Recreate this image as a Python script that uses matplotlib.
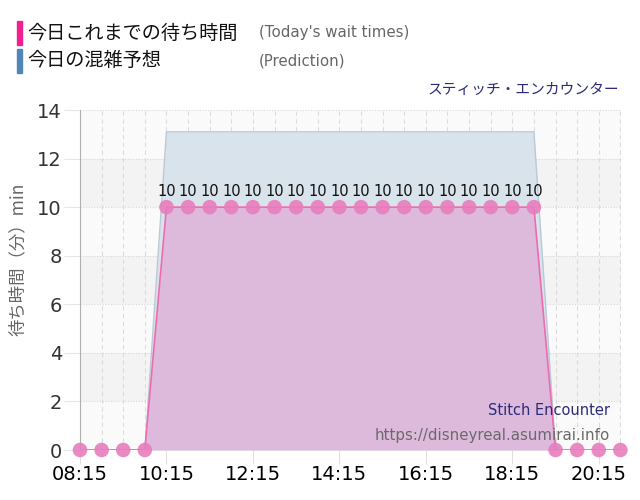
import matplotlib
matplotlib.use("Agg")
import matplotlib.pyplot as plt

# data (30 min steps)
times = ["08:15", "08:45", "09:15", "09:45", "10:15", "10:45", "11:15", "11:45",
         "12:15", "12:45", "13:15", "13:45", "14:15", "14:45", "15:15", "15:45",
         "16:15", "16:45", "17:15", "17:45", "18:15", "18:45", "19:15", "19:45",
         "20:15", "20:45"]
waits = [0, 0, 0, 0, 10, 10, 10, 10, 10, 10, 10, 10, 10, 10, 10, 10,
         10, 10, 10, 10, 10, 10, 0, 0, 0, 0]
prediction = [0, 0, 0, 0, 13.1, 13.1, 13.1, 13.1, 13.1, 13.1, 13.1, 13.1, 13.1,
              13.1, 13.1, 13.1, 13.1, 13.1, 13.1, 13.1, 13.1, 13.1, 0, 0, 0, 0]
xtick_labels = ["08:15", "10:15", "12:15", "14:15", "16:15", "18:15", "20:15"]
yticks = [0, 2, 4, 6, 8, 10, 12, 14]


def to_hours(t):
    h, m = t.split(":")
    return int(h) + int(m) / 60


x = [to_hours(t) for t in times]
xt = [to_hours(t) for t in xtick_labels]

jp = ["Noto Sans CJK JP", "DejaVu Sans"]
plt.rcParams["font.family"] = ["DejaVu Sans", "Noto Sans CJK JP"]

fig = plt.figure(figsize=(6.4, 5), dpi=100)
ax = fig.add_axes([0.125, 0.1, 0.845, 0.68])
ax.set_xlim(8.25, 20.76)
ax.set_ylim(0, 14)

# banded background
for i, y0 in enumerate(range(0, 14, 2)):
    ax.axhspan(y0, y0 + 2, color="#f3f3f3" if i % 2 else "#fafafa", zorder=0, lw=0)

# grid
for t in x:
    ax.axvline(t, color="#dcdcdc", lw=0.8, ls=(0, (4, 3)), zorder=1)
for y in yticks:
    ax.axhline(y, color="#d8d8d8", lw=0.8, ls=(0, (1, 1.5)), zorder=1)

# prediction area
ax.fill_between(x, prediction, color="#d8e3eb", zorder=2, lw=0)
ax.plot(x, prediction, color="#b9cad7", lw=1, zorder=2)

# today's wait times
ax.fill_between(x, waits, color="#ddbadb", zorder=3, lw=0)
ax.plot(x, waits, color="#f06ab0", lw=1.2, zorder=4)
ax.scatter(x, waits, s=110, color="#e87dbd", alpha=0.9, zorder=5, clip_on=False,
           edgecolors="none")
for xi, w in zip(x, waits):
    if w > 0:
        ax.text(xi, w + 0.35, str(w), ha="center", va="bottom", fontsize=10.5,
                color="#111111", zorder=6)

ax.set_xticks(xt)
ax.set_xticklabels(xtick_labels, fontsize=14, color="black")
ax.set_yticks(yticks)
ax.set_yticklabels([str(v) for v in yticks], fontsize=14, color="#333333")
ax.tick_params(axis="x", length=10, color="#e0e0e0", pad=1)
ax.tick_params(axis="y", length=11.5, color="#e6e6e6", pad=1.5)
for s in ["top", "right", "bottom"]:
    ax.spines[s].set_visible(False)
ax.spines["left"].set_color("#b0b0b0")

ax.set_ylabel("待ち時間（分）min", fontsize=12.5, color="#666666", family=jp,
              labelpad=6)
ax.yaxis.set_label_coords(-0.098, 0.56)

# watermark (drawn above the areas)
ax.text(0.98, 0.095, "Stitch Encounter", transform=ax.transAxes, ha="right",
        va="bottom", fontsize=10.5, color="#2b2b7a", zorder=7)
ax.text(0.98, 0.022, "https://disneyreal.asumirai.info", transform=ax.transAxes,
        ha="right", va="bottom", fontsize=10.8, color="#6a6a6a", zorder=7)

# header legend
fig.patches.append(plt.Rectangle((17 / 640, 1 - 45 / 500), 5 / 640, 24 / 500,
                                 transform=fig.transFigure, color="#f0208f"))
fig.patches.append(plt.Rectangle((17 / 640, 1 - 73 / 500), 5 / 640, 24 / 500,
                                 transform=fig.transFigure, color="#4f87b8"))
fig.text(27 / 640, 1 - 33 / 500, "今日これまでの待ち時間", fontsize=13.8,
         family=jp, va="center", color="#111111")
fig.text(27 / 640, 1 - 61 / 500, "今日の混雑予想", fontsize=13.8,
         family=jp, va="center", color="#111111")
fig.text(259 / 640, 1 - 32 / 500, "(Today's wait times)", fontsize=10.8,
         va="center", color="#666666")
fig.text(259 / 640, 1 - 61 / 500, "(Prediction)", fontsize=10.8,
         va="center", color="#666666")
fig.text(619 / 640, 1 - 90 / 500, "スティッチ・エンカウンター", fontsize=10.6,
         family=jp, ha="right", va="center", color="#2b2b7a")

fig.savefig("out.png", dpi=100)
